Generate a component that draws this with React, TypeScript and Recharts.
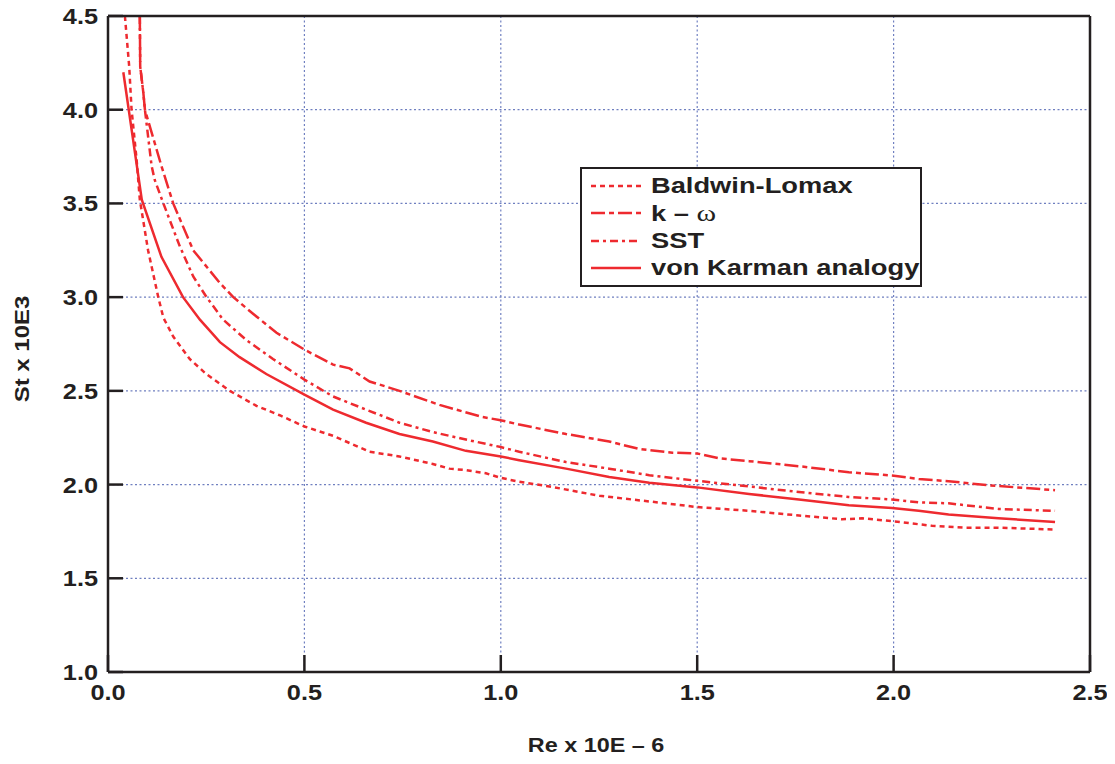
import { LineChart, Line, XAxis, YAxis, CartesianGrid } from 'recharts';

const RED = '#ee2a2f';
const INK = '#231f20';
const FONT = '"Liberation Sans", Arial, Helvetica, sans-serif';

const xTicks = [0, 0.5, 1.0, 1.5, 2.0, 2.5];
const yTicks = [1.0, 1.5, 2.0, 2.5, 3.0, 3.5, 4.0, 4.5];

// Baldwin-Lomax
const blX = [0.043, 0.054, 0.060, 0.073, 0.081, 0.102, 0.128, 0.141, 0.166, 0.208, 0.25, 0.31, 0.378, 0.437, 0.5, 0.573, 0.666, 0.742, 0.827, 0.869, 0.911, 0.962, 1.0, 1.047, 1.124, 1.251, 1.378, 1.5, 1.632, 1.759, 1.869, 1.92, 1.996, 2.098, 2.18, 2.267, 2.411];
const blY = [4.5, 4.23, 4.0, 3.73, 3.52, 3.25, 3.0, 2.89, 2.79, 2.67, 2.59, 2.5, 2.42, 2.37, 2.31, 2.26, 2.175, 2.15, 2.11, 2.085, 2.077, 2.06, 2.036, 2.015, 1.99, 1.94, 1.91, 1.88, 1.86, 1.835, 1.815, 1.82, 1.805, 1.78, 1.77, 1.77, 1.76];

// k - omega
const kwX = [0.081, 0.082, 0.090, 0.094, 0.136, 0.166, 0.217, 0.285, 0.319, 0.37, 0.429, 0.5, 0.573, 0.615, 0.666, 0.742, 0.844, 0.954, 0.996, 1.047, 1.166, 1.276, 1.352, 1.437, 1.5, 1.556, 1.632, 1.759, 1.886, 1.996, 2.064, 2.14, 2.242, 2.411];
const kwY = [4.5, 4.23, 4.09, 4.0, 3.7, 3.5, 3.25, 3.075, 3.0, 2.91, 2.81, 2.72, 2.64, 2.62, 2.55, 2.5, 2.425, 2.36, 2.345, 2.32, 2.27, 2.23, 2.19, 2.17, 2.166, 2.14, 2.125, 2.098, 2.066, 2.048, 2.03, 2.018, 1.996, 1.97];

// SST
const sstX = [0.081, 0.082, 0.090, 0.094, 0.111, 0.119, 0.141, 0.183, 0.217, 0.251, 0.293, 0.353, 0.42, 0.5, 0.573, 0.657, 0.742, 0.827, 0.911, 1.0, 1.047, 1.166, 1.276, 1.378, 1.5, 1.632, 1.759, 1.886, 1.996, 2.064, 2.14, 2.267, 2.411];
const sstY = [4.5, 4.23, 4.09, 4.0, 3.7, 3.625, 3.5, 3.27, 3.11, 3.0, 2.88, 2.77, 2.67, 2.56, 2.47, 2.4, 2.33, 2.28, 2.24, 2.2, 2.175, 2.12, 2.085, 2.05, 2.02, 1.99, 1.96, 1.934, 1.92, 1.905, 1.9, 1.87, 1.86];

// von Karman analogy
const vkX = [0.039, 0.086, 0.136, 0.191, 0.234, 0.285, 0.335, 0.403, 0.5, 0.573, 0.657, 0.742, 0.827, 0.911, 1.0, 1.047, 1.166, 1.276, 1.378, 1.5, 1.632, 1.759, 1.886, 1.996, 2.064, 2.14, 2.267, 2.411];
const vkY = [4.2, 3.52, 3.215, 3.0, 2.88, 2.76, 2.68, 2.59, 2.48, 2.4, 2.33, 2.27, 2.23, 2.18, 2.15, 2.13, 2.085, 2.04, 2.01, 1.985, 1.95, 1.92, 1.89, 1.875, 1.86, 1.84, 1.82, 1.8];

const zip = (xs: number[], ys: number[]) => xs.map((x, i) => ({ x, y: ys[i] }));

const series = [
  { name: 'Baldwin-Lomax', data: zip(blX, blY), dash: '5 4' },
  { name: 'k – ω', data: zip(kwX, kwY), dash: '14 4 5 4' },
  { name: 'SST', data: zip(sstX, sstY), dash: '8 4 3 4' },
  { name: 'von Karman analogy', data: zip(vkX, vkY), dash: undefined },
];

const boldText = { fontFamily: FONT, fontWeight: 700, fontSize: 22, fill: INK };

const BottomTick = ({ x, y, payload }: any) => (
  <g>
    <line x1={x} y1={y} x2={x} y2={y - 17} stroke={INK} strokeWidth={2.5} />
    <text transform={`translate(${x},${y + 28}) scale(1.15,1)`} textAnchor="middle" {...boldText}>
      {Number(payload.value).toFixed(1)}
    </text>
  </g>
);

const TopTick = ({ x, y }: any) => (
  <line x1={x} y1={y} x2={x} y2={y + 17} stroke={INK} strokeWidth={2.5} />
);

const LeftTick = ({ x, y, payload }: any) => (
  <g>
    <line x1={x} y1={y} x2={x + 15} y2={y} stroke={INK} strokeWidth={2.5} />
    <text transform={`translate(${x - 10},${y + 8}) scale(1.15,1)`} textAnchor="end" {...boldText}>
      {Number(payload.value).toFixed(1)}
    </text>
  </g>
);

const RightTick = ({ x, y }: any) => (
  <line x1={x} y1={y} x2={x - 15} y2={y} stroke={INK} strokeWidth={2.5} />
);

const XTitle = () => (
  <text transform="translate(596,752) scale(1.17,1)" textAnchor="middle" {...boldText} fontSize={20}>
    Re x 10E – 6
  </text>
);

const YTitle = () => (
  <text transform="translate(29,349) rotate(-90) scale(1.2,1)" textAnchor="middle" {...boldText} fontSize={20}>
    St x 10E3
  </text>
);

function LegendBox() {
  return (
    <div
      style={{
        position: 'absolute',
        left: 580,
        top: 167,
        width: 338,
        height: 113,
        border: `2px solid ${INK}`,
        background: '#fff',
        paddingTop: 3,
        fontFamily: FONT,
        fontWeight: 700,
        fontSize: 22,
        color: INK,
      }}
    >
      {series.map((s) => (
        <div key={s.name} style={{ display: 'flex', alignItems: 'center', height: 27.5 }}>
          <svg width={50} height={10} style={{ marginLeft: 9, marginRight: 10, flexShrink: 0 }}>
            <line x1={0} y1={5} x2={50} y2={5} stroke={RED} strokeWidth={2.5} strokeDasharray={s.dash} />
          </svg>
          <span style={{ whiteSpace: 'pre', display: 'inline-block', transform: 'scaleX(1.24)', transformOrigin: 'left center' }}>
            {s.name === 'k – ω' ? (
              <>
                k – <span style={{ fontFamily: '"Liberation Serif", serif', fontWeight: 400, fontSize: 24 }}>ω</span>
              </>
            ) : (
              s.name
            )}
          </span>
        </div>
      ))}
    </div>
  );
}

export default function App() {
  return (
    <div style={{ position: 'relative', width: 1115, height: 764, marginTop: -8, marginLeft: -8 }}>
      <LineChart width={1115} height={764} margin={{ top: 15, right: 24, left: 8, bottom: 8 }}>
        <CartesianGrid
          xAxisId="b"
          yAxisId="l"
          stroke="#6f7fc0"
          strokeWidth={1.2}
          strokeDasharray="2 2.5"
          horizontalValues={yTicks}
          verticalValues={xTicks}
        />
        <XAxis
          xAxisId="b"
          dataKey="x"
          type="number"
          domain={[0, 2.5]}
          ticks={xTicks}
          interval={0}
          allowDataOverflow
          height={84}
          tickSize={0}
          tickMargin={0}
          tickLine={false}
          axisLine={{ stroke: INK, strokeWidth: 2.5 }}
          tick={BottomTick}
          label={XTitle}
        />
        <XAxis
          xAxisId="t"
          orientation="top"
          dataKey="x"
          type="number"
          domain={[0, 2.5]}
          ticks={xTicks}
          interval={0}
          height={1}
          tickSize={0}
          tickMargin={0}
          tickLine={false}
          axisLine={{ stroke: INK, strokeWidth: 2.5 }}
          tick={TopTick}
        />
        <YAxis
          yAxisId="l"
          type="number"
          domain={[1, 4.5]}
          ticks={yTicks}
          interval={0}
          allowDataOverflow
          width={100}
          tickSize={0}
          tickMargin={0}
          tickLine={false}
          axisLine={{ stroke: INK, strokeWidth: 2.5 }}
          tick={LeftTick}
          label={YTitle}
        />
        <YAxis
          yAxisId="r"
          orientation="right"
          type="number"
          domain={[1, 4.5]}
          ticks={yTicks}
          interval={0}
          width={1}
          tickSize={0}
          tickMargin={0}
          tickLine={false}
          axisLine={{ stroke: INK, strokeWidth: 2.5 }}
          tick={RightTick}
        />
        {series.map((s) => (
          <Line
            key={s.name}
            xAxisId="b"
            yAxisId="l"
            data={s.data}
            dataKey="y"
            type="linear"
            stroke={RED}
            strokeWidth={2.5}
            strokeDasharray={s.dash}
            dot={false}
            activeDot={false}
            isAnimationActive={false}
          />
        ))}
      </LineChart>
      <LegendBox />
    </div>
  );
}
